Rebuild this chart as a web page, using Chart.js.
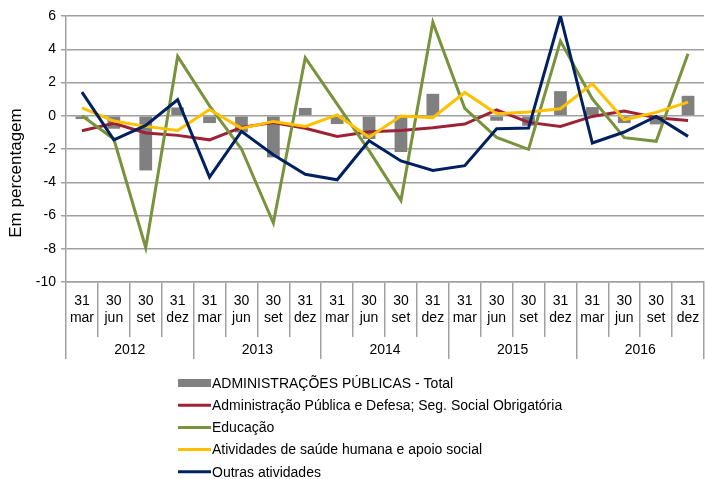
<!DOCTYPE html>
<html>
<head>
<meta charset="utf-8">
<script src="https://cdn.jsdelivr.net/npm/chart.js@4/dist/chart.umd.min.js"></script>
<style>
  html, body { margin: 0; padding: 0; background: #fff; }
  #wrap { width: 705px; height: 479px; position: relative; }
</style>
</head>
<body>
<div id="wrap"><canvas id="myChart"></canvas></div>
<script>
let years = ["2012", "2013", "2014", "2015", "2016"];
let quarterLabels = [["31", "mar"], ["30", "jun"], ["30", "set"], ["31", "dez"]];

let totalValues = [-0.2, -0.78, -3.29, 0.5, -0.44, -1.0, -2.5, 0.47, -0.5, -1.4, -2.18, 1.32, 0.0, -0.3, -0.6, 1.48, 0.52, -0.44, -0.52, 1.2];
let defesaValues = [-0.9, -0.45, -1.04, -1.18, -1.45, -0.7, -0.4, -0.75, -1.25, -0.96, -0.88, -0.72, -0.5, 0.35, -0.4, -0.64, -0.04, 0.28, -0.12, -0.28];
let educacaoValues = [0.0, -1.4, -7.94, 3.57, 0.6, -2.0, -6.45, 3.49, 0.7, -2.1, -5.09, 5.63, 0.45, -1.3, -2.02, 4.49, 1.02, -1.32, -1.54, 3.73];
let saudeValues = [0.48, -0.32, -0.64, -0.88, 0.38, -0.76, -0.34, -0.64, 0.05, -1.29, -0.02, -0.12, 1.4, 0.12, 0.22, 0.42, 1.92, -0.24, 0.2, 0.82];
let outrasValues = [1.42, -1.45, -0.58, 0.96, -3.69, -0.94, -2.35, -3.52, -3.85, -1.5, -2.72, -3.29, -3.0, -0.78, -0.74, 6.0, -1.64, -0.98, -0.04, -1.24];

let xLabels = [];
for (let y = 0; y < years.length; ++y) {
    for (let q = 0; q < quarterLabels.length; ++q) {
        xLabels.push(quarterLabels[q]);
    }
}

const gridColor = "#a0a0a0";
const baseFont = "'Liberation Sans', Arial, sans-serif";
Chart.defaults.font.family = baseFont;
Chart.defaults.color = "#000";

// legend drawn as one column under the axis, y title placed like the original
const extras = {
    id: "extras",
    afterDraw(chart) {
        const ctx = chart.ctx;
        ctx.save();
        ctx.font = "14px " + baseFont;
        ctx.textBaseline = "middle";
        chart.data.datasets.forEach((ds, i) => {
            const y = 383 + i * 22.2;
            if (ds.type === "bar") {
                ctx.fillStyle = ds.backgroundColor;
                ctx.fillRect(178, y - 4, 33, 8);
            } else {
                ctx.strokeStyle = ds.borderColor;
                ctx.lineWidth = 3;
                ctx.beginPath();
                ctx.moveTo(178, y);
                ctx.lineTo(211, y);
                ctx.stroke();
            }
            ctx.fillStyle = "#000";
            ctx.fillText(ds.label, 212, y + 1);
        });

        ctx.font = "17px " + baseFont;
        ctx.translate(16, 173);
        ctx.rotate(-Math.PI / 2);
        ctx.textAlign = "center";
        ctx.fillText("Em percentagem", 0, 0);
        ctx.restore();
    }
};

new Chart("myChart", {
    data: {
        labels: xLabels,
        datasets: [{
            type: "bar",
            label: "ADMINISTRAÇÕES PÚBLICAS - Total",
            data: totalValues,
            backgroundColor: "#808080",
            barPercentage: 0.4,
            categoryPercentage: 1,
            order: 5
        }, {
            type: "line",
            label: "Administração Pública e Defesa; Seg. Social Obrigatória",
            data: defesaValues,
            borderColor: "#9e2236",
            borderWidth: 3,
            pointRadius: 0,
            order: 4
        }, {
            type: "line",
            label: "Educação",
            data: educacaoValues,
            borderColor: "#77933c",
            borderWidth: 3,
            pointRadius: 0,
            order: 3
        }, {
            type: "line",
            label: "Atividades de saúde humana e apoio social",
            data: saudeValues,
            borderColor: "#ffc000",
            borderWidth: 3,
            pointRadius: 0,
            order: 2
        }, {
            type: "line",
            label: "Outras atividades",
            data: outrasValues,
            borderColor: "#002060",
            borderWidth: 3,
            pointRadius: 0,
            order: 1
        }]
    },
    plugins: [extras],
    options: {
        responsive: true,
        maintainAspectRatio: false,
        animation: false,
        layout: {padding: {top: 16, right: 1, bottom: 117, left: 0}},
        plugins: {
            legend: {display: false},
            tooltip: {enabled: false}
        },
        scales: {
            x: {
                offset: true,
                grid: {offset: true, drawOnChartArea: false, tickLength: 55, color: gridColor, lineWidth: 1.5},
                border: {color: gridColor, width: 1.5},
                ticks: {
                    padding: -45,
                    maxRotation: 0,
                    autoSkip: false,
                    font: {size: 14, lineHeight: 1.25}
                },
                afterFit: s => { s.height = 55; }
            },
            x2: {
                type: "category",
                labels: years,
                position: "bottom",
                offset: true,
                grid: {offset: true, drawOnChartArea: false, tickLength: 22, color: gridColor, lineWidth: 1.5},
                border: {display: false},
                ticks: {padding: -17, maxRotation: 0, font: {size: 14}},
                afterFit: s => { s.height = 25; }
            },
            y: {
                min: -10,
                max: 6,
                ticks: {stepSize: 2, padding: 5, font: {size: 14}},
                grid: {color: gridColor, tickLength: 5, lineWidth: 1.5},
                border: {color: gridColor, width: 1.5},
                afterFit: s => { s.width = 66; }
            }
        }
    }
});
</script>
</body>
</html>
